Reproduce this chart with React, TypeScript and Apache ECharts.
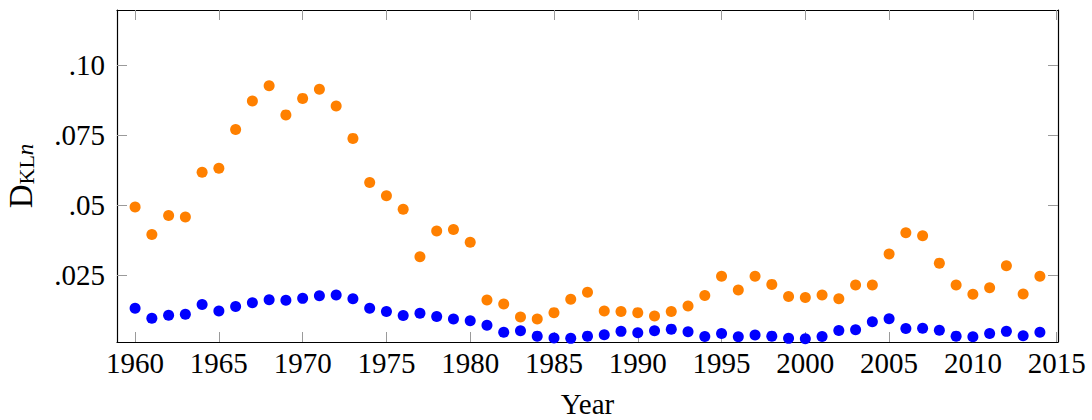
import React, { useEffect, useRef } from "react";
import * as echarts from "echarts";

const years = [
  1960, 1961, 1962, 1963, 1964, 1965, 1966, 1967, 1968, 1969,
  1970, 1971, 1972, 1973, 1974, 1975, 1976, 1977, 1978, 1979,
  1980, 1981, 1982, 1983, 1984, 1985, 1986, 1987, 1988, 1989,
  1990, 1991, 1992, 1993, 1994, 1995, 1996, 1997, 1998, 1999,
  2000, 2001, 2002, 2003, 2004, 2005, 2006, 2007, 2008, 2009,
  2010, 2011, 2012, 2013, 2014,
];

const orangeValues = [
  0.0493, 0.0394, 0.0462, 0.0457, 0.0617, 0.0631, 0.077, 0.0872, 0.0926, 0.0822,
  0.0881, 0.0914, 0.0854, 0.0738, 0.058, 0.0533, 0.0485, 0.0315, 0.0407, 0.0412,
  0.0367, 0.016, 0.0146, 0.0099, 0.0092, 0.0115, 0.0163, 0.0188, 0.0121, 0.0119,
  0.0115, 0.0103, 0.0119, 0.0139, 0.0176, 0.0245, 0.0196, 0.0245, 0.0216, 0.0173,
  0.0169, 0.0178, 0.0165, 0.0214, 0.0214, 0.0325, 0.0401, 0.039, 0.0292, 0.0214,
  0.0181, 0.0204, 0.0283, 0.0182, 0.0245,
];

const blueValues = [
  0.0131, 0.0095, 0.0106, 0.0109, 0.0144, 0.0121, 0.0137, 0.015, 0.0161, 0.0159,
  0.0166, 0.0175, 0.0178, 0.0165, 0.0131, 0.0119, 0.0105, 0.0113, 0.0101, 0.0092,
  0.0086, 0.007, 0.0045, 0.005, 0.0031, 0.0024, 0.0023, 0.0031, 0.0036, 0.0048,
  0.0043, 0.005, 0.0056, 0.0047, 0.003, 0.004, 0.0029, 0.0035, 0.0031, 0.0023,
  0.0022, 0.003, 0.0051, 0.0054, 0.0082, 0.0093, 0.0058, 0.0059, 0.0052, 0.0031,
  0.0029, 0.004, 0.0048, 0.0032, 0.0045,
];

const xTickValues = [1960, 1965, 1970, 1975, 1980, 1985, 1990, 1995, 2000, 2005, 2010, 2015];
const yTickValues = [0.025, 0.05, 0.075, 0.1];
const yTickLabels = [".025", ".05", ".075", ".10"];

const X_MIN = 1958.92;
const X_MAX = 2015.08;
const Y_MIN = 0.001;
const Y_MAX = 0.1197;

const FONT = "'Liberation Serif', 'DejaVu Serif', serif";
const TICK_COLOR = "#9a9a9a";

export default function App() {
  const ref = useRef<HTMLDivElement>(null);

  useEffect(() => {
    if (!ref.current) return;
    const chart = echarts.init(ref.current, undefined, { renderer: "svg" });

    const axisLine = { show: true, onZero: false, lineStyle: { color: "#000", width: 1.2 } };
    const tickStyle = { color: TICK_COLOR, width: 1 };

    const orangeData = years.map((y, i) => [y, orangeValues[i]]);
    const blueData = years.map((y, i) => [y, blueValues[i]]);

    chart.setOption({
      animation: false,
      backgroundColor: "#fff",
      grid: { left: 117, right: 34, top: 10, bottom: 78, containLabel: false, outerBoundsMode: "none" },
      xAxis: [
        {
          type: "value",
          position: "bottom",
          min: X_MIN,
          max: X_MAX,
          axisLine,
          splitLine: { show: false },
          axisTick: { show: true, inside: true, length: 10, lineStyle: tickStyle, customValues: xTickValues },
          axisLabel: {
            show: true,
            customValues: xTickValues,
            formatter: (v: number) => String(v),
            fontFamily: FONT,
            fontSize: 29,
            color: "#000",
            margin: 6,
          },
          name: "Year",
          nameLocation: "middle",
          nameGap: 47,
          nameTextStyle: { fontFamily: FONT, fontSize: 29, color: "#000" },
        },
        {
          type: "value",
          position: "top",
          min: X_MIN,
          max: X_MAX,
          axisLine,
          splitLine: { show: false },
          axisTick: { show: true, inside: true, length: 10, lineStyle: tickStyle, customValues: xTickValues },
          axisLabel: { show: false, customValues: xTickValues },
        },
      ],
      yAxis: [
        {
          type: "value",
          position: "left",
          min: Y_MIN,
          max: Y_MAX,
          axisLine,
          splitLine: { show: false },
          axisTick: { show: true, inside: true, length: 10, lineStyle: tickStyle, customValues: yTickValues },
          axisLabel: {
            show: true,
            customValues: yTickValues,
            formatter: (v: number) => {
              const idx = yTickValues.findIndex((t) => Math.abs(t - v) < 1e-9);
              return idx >= 0 ? yTickLabels[idx] : "";
            },
            fontFamily: FONT,
            fontSize: 29,
            color: "#000",
            margin: 12,
          },
          name: "{d|D}{s|KL}{n|n}",
          nameLocation: "middle",
          nameGap: 80,
          nameRotate: 90,
          nameTextStyle: {
            fontFamily: FONT,
            color: "#000",
            rich: {
              d: { fontFamily: FONT, fontSize: 33, color: "#000", lineHeight: 34, verticalAlign: "bottom" },
              s: { fontFamily: FONT, fontSize: 22, color: "#000", verticalAlign: "bottom", lineHeight: 28 },
              n: { fontFamily: FONT, fontSize: 23, fontStyle: "italic", color: "#000", verticalAlign: "bottom", lineHeight: 28 },
            },
          },
        },
        {
          type: "value",
          position: "right",
          min: Y_MIN,
          max: Y_MAX,
          axisLine,
          splitLine: { show: false },
          axisTick: { show: true, inside: true, length: 10, lineStyle: tickStyle, customValues: yTickValues },
          axisLabel: { show: false, customValues: yTickValues },
        },
      ],
      series: [
        {
          type: "scatter",
          name: "orange",
          xAxisIndex: 0,
          yAxisIndex: 0,
          symbol: "circle",
          symbolSize: 11,
          itemStyle: { color: "#ff8000", opacity: 1 },
          data: orangeData,
        },
        {
          type: "scatter",
          name: "blue",
          xAxisIndex: 0,
          yAxisIndex: 0,
          symbol: "circle",
          symbolSize: 11,
          itemStyle: { color: "#0000ff", opacity: 1 },
          data: blueData,
        },
      ],
    });

    return () => {
      chart.dispose();
    };
  }, []);

  return (
    <div
      ref={ref}
      style={{ position: "absolute", left: 0, top: 0, width: 1092, height: 420, background: "#fff" }}
    />
  );
}
